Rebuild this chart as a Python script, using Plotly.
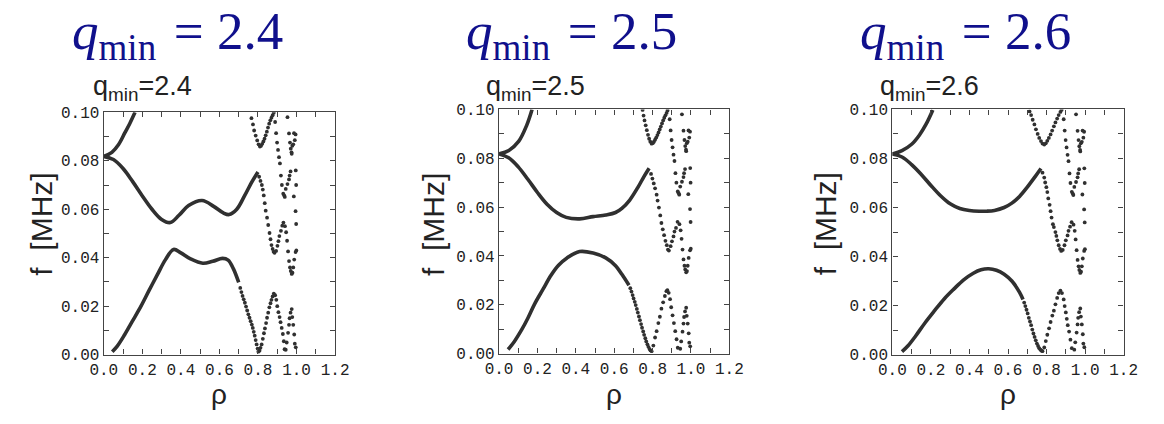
import plotly.graph_objects as go

W, H = 1164, 424
INK = "#303030"
NAVY = "#10108c"

PANEL_NAMES = ["2.4", "2.5", "2.6"]
X_TICKS = [0.0, 0.2, 0.4, 0.6, 0.8, 1.0, 1.2]
Y_TICKS = [0.00, 0.02, 0.04, 0.06, 0.08, 0.10]

# ---------------- panel 1 (q_min = 2.4) ----------------
P1_A_RHO = [0.0, 0.042, 0.076, 0.109, 0.135, 0.162]
P1_A_F = [0.0818, 0.0835, 0.0866, 0.0915, 0.0954, 0.1000]
P1_B_RHO = [0.0, 0.05, 0.10, 0.15, 0.20, 0.25, 0.30, 0.345, 0.39, 0.44, 0.51, 0.57, 0.62, 0.65, 0.69, 0.73, 0.77, 0.80]
P1_B_F = [0.0818, 0.0805, 0.0768, 0.0714, 0.0655, 0.0600, 0.0558, 0.0545, 0.0575, 0.0615, 0.0636, 0.0612, 0.0585, 0.0578, 0.0600, 0.0655, 0.0715, 0.0754]
P1_C_RHO = [0.044, 0.07, 0.108, 0.15, 0.193, 0.235, 0.278, 0.32, 0.362, 0.40, 0.45, 0.514, 0.565, 0.616, 0.645, 0.672, 0.70]
P1_C_F = [0.0012, 0.0035, 0.0082, 0.0140, 0.0200, 0.0265, 0.0330, 0.0392, 0.0434, 0.0420, 0.0395, 0.0377, 0.0385, 0.0397, 0.0390, 0.0355, 0.0298]

P1_DOT_RHO = [0.766, 0.774, 0.780, 0.788, 0.796, 0.803, 0.810,
              0.816, 0.822, 0.828, 0.834, 0.840, 0.846, 0.852, 0.858, 0.864, 0.870, 0.876, 0.882,
              0.806, 0.813, 0.820, 0.825, 0.830, 0.835, 0.840, 0.847, 0.853, 0.860, 0.865, 0.870, 0.876, 0.881, 0.886,
              0.894, 0.901, 0.906, 0.911, 0.919, 0.926, 0.932,
              0.708, 0.714, 0.720, 0.726, 0.732, 0.738, 0.744, 0.750, 0.756, 0.762, 0.768, 0.773, 0.778, 0.783, 0.788, 0.793, 0.798, 0.802,
              0.808, 0.813, 0.819, 0.825, 0.831, 0.836, 0.842, 0.847, 0.853, 0.859, 0.865, 0.870, 0.876, 0.882,
              0.889, 0.895, 0.900, 0.906, 0.912, 0.917, 0.923, 0.929, 0.934, 0.938]
P1_DOT_F = [0.0976, 0.0950, 0.0925, 0.0904, 0.0884, 0.0868, 0.0859,
            0.0862, 0.0870, 0.0880, 0.0891, 0.0905, 0.0920, 0.0937, 0.0953, 0.0967, 0.0978, 0.0988, 0.0998,
            0.0734, 0.0717, 0.0700, 0.0681, 0.0657, 0.0625, 0.0594, 0.0565, 0.0535, 0.0502, 0.0476, 0.0452, 0.0436, 0.0425, 0.0420,
            0.0428, 0.0449, 0.0468, 0.0489, 0.0511, 0.0532, 0.0545,
            0.0275, 0.0258, 0.0242, 0.0228, 0.0214, 0.0198, 0.0182, 0.0166, 0.0152, 0.0138, 0.0124, 0.0110, 0.0094, 0.0078, 0.0060, 0.0042, 0.0025, 0.0012,
            0.0016, 0.0028, 0.0042, 0.0065, 0.0088, 0.0108, 0.0130, 0.0152, 0.0173, 0.0195, 0.0212, 0.0226, 0.0240, 0.0252,
            0.0245, 0.0226, 0.0200, 0.0175, 0.0155, 0.0134, 0.0110, 0.0085, 0.0055, 0.0022]

# ---------------- panel 2 (q_min = 2.5) ----------------
P2_A_RHO = [0.0, 0.051, 0.102, 0.144, 0.172]
P2_A_F = [0.0818, 0.0832, 0.0869, 0.0935, 0.1000]
P2_B_RHO = [0.0, 0.05, 0.10, 0.15, 0.20, 0.25, 0.30, 0.35, 0.42, 0.49, 0.556, 0.607, 0.64, 0.68, 0.725, 0.755, 0.782]
P2_B_F = [0.0818, 0.0802, 0.0765, 0.0714, 0.0660, 0.0612, 0.0578, 0.0558, 0.0552, 0.0561, 0.0568, 0.0578, 0.0595, 0.0628, 0.0683, 0.0725, 0.0759]
P2_C_RHO = [0.047, 0.08, 0.118, 0.15, 0.185, 0.23, 0.27, 0.31, 0.354, 0.42, 0.49, 0.556, 0.607, 0.64, 0.677]
P2_C_F = [0.0017, 0.0050, 0.0098, 0.0145, 0.0203, 0.0265, 0.0320, 0.0362, 0.0392, 0.0418, 0.0412, 0.0392, 0.0360, 0.0325, 0.0280]

P2_DOT_RHO = [0.748, 0.753, 0.758, 0.764, 0.770, 0.776, 0.782, 0.788, 0.795,
              0.801, 0.807, 0.813, 0.819, 0.825, 0.831, 0.837, 0.843, 0.849, 0.855, 0.861, 0.867, 0.873, 0.878,
              0.792, 0.799, 0.806, 0.813, 0.821, 0.826, 0.833, 0.840, 0.846, 0.853, 0.860, 0.867, 0.874, 0.880, 0.885,
              0.894, 0.901, 0.909, 0.914, 0.922, 0.930,
              0.684, 0.690, 0.696, 0.701, 0.707, 0.712, 0.718, 0.723, 0.729, 0.734, 0.740, 0.745, 0.751, 0.756, 0.762, 0.767, 0.773, 0.778, 0.784, 0.789, 0.795,
              0.804, 0.813, 0.821, 0.830, 0.838, 0.846, 0.855, 0.864, 0.872, 0.877,
              0.884, 0.891, 0.897, 0.904, 0.911, 0.918, 0.925, 0.931]
P2_DOT_F = [0.0998, 0.0975, 0.0955, 0.0935, 0.0915, 0.0896, 0.0880, 0.0868, 0.0860,
            0.0862, 0.0868, 0.0876, 0.0885, 0.0895, 0.0906, 0.0918, 0.0930, 0.0943, 0.0955, 0.0966, 0.0976, 0.0986, 0.0996,
            0.0736, 0.0717, 0.0697, 0.0677, 0.0651, 0.0627, 0.0598, 0.0566, 0.0535, 0.0509, 0.0485, 0.0462, 0.0444, 0.0426, 0.0422,
            0.0440, 0.0460, 0.0480, 0.0500, 0.0515, 0.0540,
            0.0268, 0.0254, 0.0240, 0.0226, 0.0212, 0.0199, 0.0183, 0.0168, 0.0152, 0.0137, 0.0121, 0.0106, 0.0091, 0.0077, 0.0063, 0.0050, 0.0038, 0.0028, 0.0019, 0.0013, 0.0010,
            0.0033, 0.0066, 0.0092, 0.0125, 0.0151, 0.0184, 0.0210, 0.0236, 0.0256, 0.0260,
            0.0249, 0.0223, 0.0190, 0.0157, 0.0125, 0.0092, 0.0059, 0.0024]

# ---------------- panel 3 (q_min = 2.6) ----------------
P3_A_RHO = [0.0, 0.05, 0.10, 0.14, 0.175, 0.21]
P3_A_F = [0.0818, 0.0832, 0.0858, 0.0895, 0.0940, 0.0998]
P3_B_RHO = [0.0, 0.05, 0.10, 0.15, 0.20, 0.25, 0.30, 0.35, 0.40, 0.45, 0.49, 0.53, 0.58, 0.62, 0.66, 0.70, 0.74, 0.771]
P3_B_F = [0.0818, 0.0806, 0.0775, 0.0735, 0.0690, 0.0648, 0.0615, 0.0596, 0.0588, 0.0585, 0.0585, 0.0588, 0.0600, 0.0618, 0.0645, 0.0683, 0.0725, 0.0759]
P3_C_RHO = [0.05, 0.08, 0.12, 0.17, 0.22, 0.27, 0.32, 0.37, 0.42, 0.46, 0.50, 0.54, 0.58, 0.62, 0.66, 0.678]
P3_C_F = [0.0012, 0.0035, 0.0075, 0.0130, 0.0180, 0.0228, 0.0268, 0.0305, 0.0332, 0.0346, 0.0350, 0.0344, 0.0328, 0.0300, 0.0254, 0.0225]

P3_DOT_RHO = [0.712, 0.720, 0.728, 0.737, 0.745, 0.754, 0.762, 0.771, 0.779, 0.788,
              0.796, 0.804, 0.812, 0.821, 0.829, 0.838, 0.846, 0.855, 0.863, 0.872, 0.878,
              0.779, 0.788, 0.793, 0.799, 0.804, 0.809, 0.816, 0.821, 0.826, 0.833, 0.838, 0.846, 0.851, 0.856, 0.863, 0.870, 0.876, 0.884,
              0.893, 0.900, 0.909, 0.914, 0.922, 0.930,
              0.684, 0.690, 0.696, 0.702, 0.708, 0.714, 0.720, 0.726, 0.732, 0.738, 0.744, 0.750, 0.756, 0.762, 0.768, 0.774, 0.779,
              0.788, 0.796, 0.804, 0.813, 0.821, 0.830, 0.838, 0.846, 0.855, 0.863, 0.872,
              0.880, 0.889, 0.894, 0.900, 0.905, 0.910, 0.917, 0.924, 0.931]
P3_DOT_F = [0.0992, 0.0977, 0.0958, 0.0939, 0.0919, 0.0900, 0.0884, 0.0871, 0.0861, 0.0857,
            0.0862, 0.0872, 0.0884, 0.0898, 0.0914, 0.0931, 0.0947, 0.0963, 0.0977, 0.0990, 0.0998,
            0.0742, 0.0722, 0.0702, 0.0683, 0.0663, 0.0637, 0.0611, 0.0585, 0.0559, 0.0532, 0.0520, 0.0500, 0.0484, 0.0466, 0.0446, 0.0431, 0.0423, 0.0427,
            0.0446, 0.0466, 0.0486, 0.0505, 0.0522, 0.0540,
            0.0212, 0.0198, 0.0183, 0.0168, 0.0150, 0.0135, 0.0120, 0.0102, 0.0086, 0.0072, 0.0058, 0.0045, 0.0035, 0.0026, 0.0020, 0.0016, 0.0014,
            0.0029, 0.0055, 0.0081, 0.0107, 0.0133, 0.0159, 0.0179, 0.0205, 0.0231, 0.0251, 0.0261,
            0.0251, 0.0225, 0.0198, 0.0172, 0.0146, 0.0120, 0.0094, 0.0061, 0.0026]

# ---------------- outer edge (same in all panels) ----------------
EDGE_RHO = [0.889, 0.894, 0.899, 0.904, 0.909, 0.914, 0.919, 0.924, 0.931, 0.936, 0.939,
            0.944, 0.953, 0.961, 0.964, 0.969, 0.975, 0.978, 0.983, 0.987,
            0.953, 0.961, 0.966, 0.970, 0.974,
            0.995, 0.991, 0.996, 0.998, 0.986, 0.995, 0.998, 0.999,
            0.940, 0.946, 0.951, 0.956, 0.961, 0.966, 0.970, 0.975, 0.979, 0.983, 0.988, 0.995,
            0.944, 0.949, 0.956, 0.961, 0.964, 0.969, 0.975, 0.978, 0.983, 0.988, 0.991, 0.996]
EDGE_F = [0.0960, 0.0914, 0.0875, 0.0845, 0.0815, 0.0789, 0.0739, 0.0700, 0.0664, 0.0657, 0.0651,
          0.0684, 0.0704, 0.0723, 0.0739, 0.0756, 0.0829, 0.0862, 0.0868, 0.0914,
          0.0980, 0.0913, 0.0875, 0.0850, 0.0835,
          0.0909, 0.0885, 0.0760, 0.0700, 0.0653, 0.0592, 0.0539, 0.0430,
          0.0530, 0.0505, 0.0470, 0.0426, 0.0386, 0.0360, 0.0345, 0.0333, 0.0338, 0.0360, 0.0392, 0.0423,
          0.0020, 0.0050, 0.0090, 0.0123, 0.0150, 0.0173, 0.0188, 0.0155, 0.0123, 0.0083, 0.0045, 0.0030]

PANELS = [
    dict(lines=[(P1_A_RHO, P1_A_F), (P1_B_RHO, P1_B_F), (P1_C_RHO, P1_C_F)], dots=(P1_DOT_RHO, P1_DOT_F)),
    dict(lines=[(P2_A_RHO, P2_A_F), (P2_B_RHO, P2_B_F), (P2_C_RHO, P2_C_F)], dots=(P2_DOT_RHO, P2_DOT_F)),
    dict(lines=[(P3_A_RHO, P3_A_F), (P3_B_RHO, P3_B_F), (P3_C_RHO, P3_C_F)], dots=(P3_DOT_RHO, P3_DOT_F)),
]

# plot-area pixel boxes: left, right, top, bottom
BOXES = [(92, 329, 110, 363), (497, 733, 107, 362), (900, 1137, 107, 363)]
BIG_TITLE_X = [168, 571, 975]
SMALL_TITLE_X = [79, 482, 885]
YLAB_X = [28, 430, 831]
XLAB_X = [210, 615, 1018]

fig = go.Figure()
layout = dict(width=W, height=H, margin=dict(l=0, r=0, t=0, b=0),
              paper_bgcolor="white", plot_bgcolor="white", showlegend=False)
annotations = []

def px(x):
    return x / W

def py(y):
    return 1 - y / H

for i, p in enumerate(PANELS):
    sfx = "" if i == 0 else str(i + 1)
    xa, ya = "x" + sfx, "y" + sfx
    for rho, f in p["lines"]:
        fig.add_trace(go.Scatter(x=rho, y=f, mode="lines", xaxis=xa, yaxis=ya,
                                 line=dict(color=INK, width=3.6, shape="spline", smoothing=1.0),
                                 hoverinfo="skip"))
    for rho, f in [p["dots"], (EDGE_RHO, EDGE_F)]:
        fig.add_trace(go.Scatter(x=rho, y=f, mode="markers", xaxis=xa, yaxis=ya,
                                 marker=dict(color=INK, size=3.8, line=dict(width=0)),
                                 hoverinfo="skip"))
    l, r, t, b = BOXES[i]
    axis_common = dict(showline=True, linecolor="#444", linewidth=1.3, mirror="allticks",
                       ticks="inside", ticklen=5, tickwidth=1, tickcolor="#444",
                       showgrid=False, zeroline=False,
                       tickfont=dict(family="Liberation Mono", size=16, color="#222"))
    layout["xaxis" + sfx] = dict(axis_common, domain=[px(l), px(r)], range=[0, 1.2],
                                 anchor=ya, tickvals=X_TICKS,
                                 ticktext=[f"{v:.1f}" for v in X_TICKS],
                                 minor=dict(ticks="inside", ticklen=5, dtick=0.1, tickcolor="#444"))
    layout["yaxis" + sfx] = dict(axis_common, domain=[py(b), py(t)], range=[0, 0.1],
                                 anchor=xa, tickvals=Y_TICKS,
                                 ticktext=[f"{v:.2f}" for v in Y_TICKS],
                                 minor=dict(ticks="inside", ticklen=5, dtick=0.01, tickcolor="#444"))
    annotations.append(dict(xref="paper", yref="paper", x=px(BIG_TITLE_X[i]), y=py(29),
                            xanchor="center", yanchor="middle", showarrow=False,
                            text=f"<i>q</i><sub>min</sub>\u00a0\u200a= {PANEL_NAMES[i]}",
                            font=dict(family="Liberation Serif", size=53, color=NAVY)))
    annotations.append(dict(xref="paper", yref="paper", x=px(SMALL_TITLE_X[i]), y=py(104),
                            xanchor="left", yanchor="bottom", showarrow=False,
                            text=f"q<sub>min</sub>={PANEL_NAMES[i]}",
                            font=dict(family="Liberation Sans", size=27, color="#222")))
    annotations.append(dict(xref="paper", yref="paper", x=px(YLAB_X[i]), y=py(227),
                            xanchor="center", yanchor="middle", showarrow=False, textangle=-90,
                            text="f\u00a0\u00a0[MHz]",
                            font=dict(family="Liberation Sans", size=30, color="#222")))
    annotations.append(dict(xref="paper", yref="paper", x=px(XLAB_X[i]), y=py(405),
                            xanchor="center", yanchor="middle", showarrow=False,
                            text="ρ",
                            font=dict(family="Liberation Sans", size=28, color="#222")))

layout["annotations"] = annotations
fig.update_layout(**layout)
fig.write_html("out.html")
